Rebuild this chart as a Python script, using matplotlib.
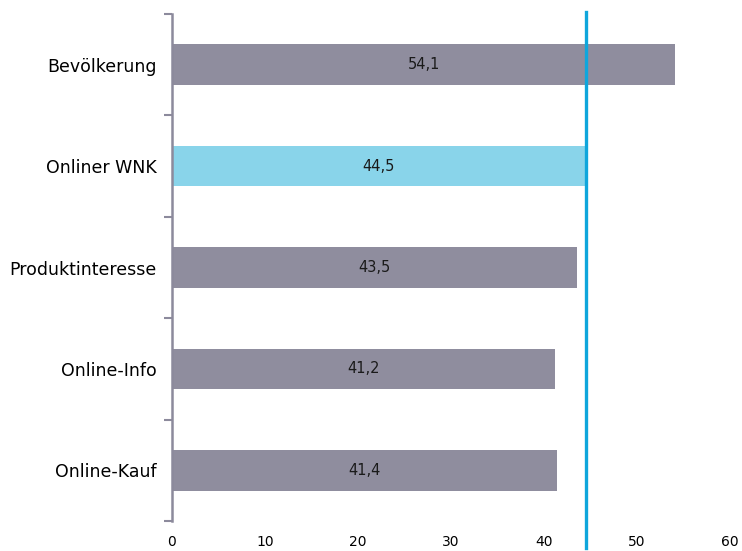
import matplotlib
matplotlib.use("Agg")
import matplotlib.pyplot as plt
import numpy as np

categories = ["Bevölkerung", "Onliner WNK", "Produktinteresse", "Online-Info", "Online-Kauf"]
values = [54.1, 44.5, 43.5, 41.2, 41.4]
value_labels = ["54,1", "44,5", "43,5", "41,2", "41,4"]
highlight = "Onliner WNK"
reference = 44.5
xticks = [0, 10, 20, 30, 40, 50, 60]

fig = plt.figure(figsize=(7.42, 5.51), dpi=100)
ax = fig.add_axes([172/742, 1-521/551, (730-172)/742, (521-14)/551])

n = len(categories)
ypos = np.arange(n)
colors = ["#89d4ea" if c == highlight else "#8f8d9e" for c in categories]
ax.barh(ypos, values, height=0.4, color=colors, zorder=2)
for y, v, lab in zip(ypos, values, value_labels):
    ax.text(v/2, y, lab, ha="center", va="center", fontsize=10.5, color="#1a1a1a", zorder=3)

ax.set_ylim(n-0.5, -0.5)
ax.set_xlim(0, 60)
ax.set_yticks(ypos)
ax.set_yticklabels(categories, fontsize=12.5)
ax.tick_params(axis="y", which="major", length=0, pad=11)
ax.set_yticks(np.arange(-0.5, n, 1), minor=True)
ax.tick_params(axis="y", which="minor", length=6, width=1.5, color="#8c8a9c", direction="out")
ax.set_xticks(xticks)
ax.set_xticklabels([str(t) for t in xticks], fontsize=10)
ax.tick_params(axis="x", length=0, pad=10)

for s in ["top", "right", "bottom"]:
    ax.spines[s].set_visible(False)
ax.spines["left"].set_color("#8c8a9c")
ax.spines["left"].set_linewidth(1.8)

ax.plot([reference, reference], [-0.5 - 2/101.4, n-0.5 + 27/101.4], color="#0fa6dc",
        linewidth=2.4, clip_on=False, zorder=4)

fig.savefig("out.png", dpi=100)
